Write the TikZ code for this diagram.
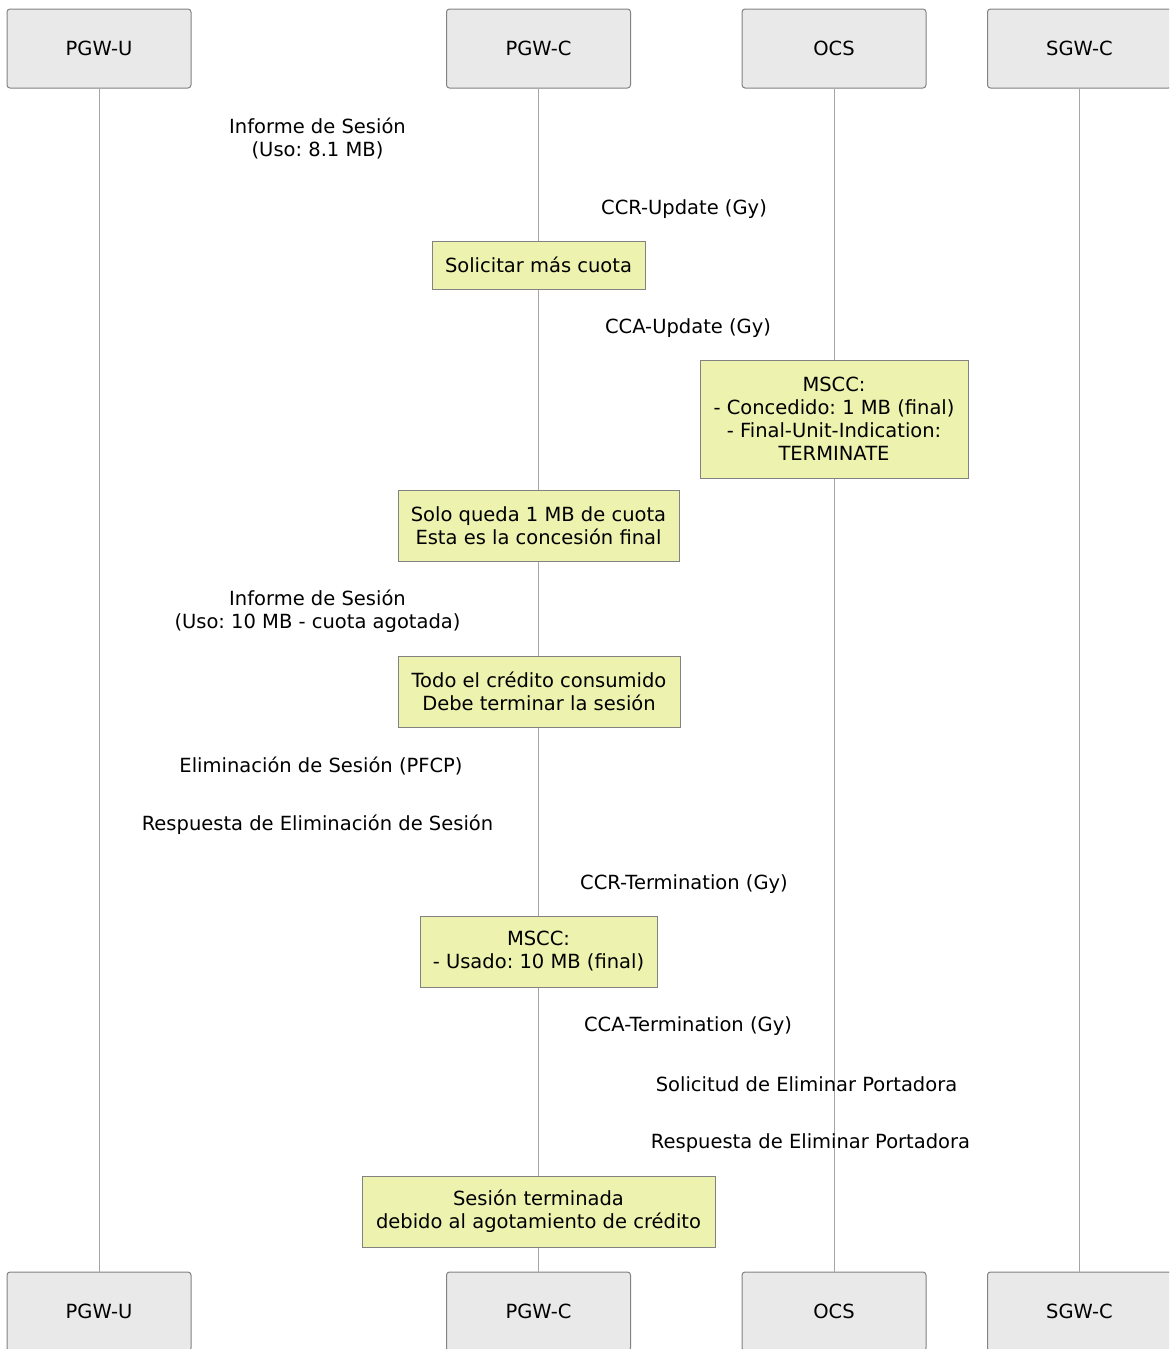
\documentclass[tikz,border=0pt]{standalone}
\usepackage{xcolor}
\usepackage{fontspec}
\setmainfont{DejaVu Sans}

\definecolor{partfill}{RGB}{233,233,233}
\definecolor{partline}{RGB}{130,130,130}
\definecolor{notefill}{RGB}{237,242,174}
\definecolor{lifegray}{RGB}{165,165,165}

\tikzset{
    party/.style={draw=partline, fill=partfill, rounded corners=1.5pt, line width=0.5pt,
        minimum width=92pt, minimum height=39.5pt, inner sep=0pt},
    note/.style={draw=partline, fill=notefill, line width=0.5pt, align=center, inner sep=0pt},
    msg/.style={align=center, inner sep=0pt},
    life/.style={draw=lifegray, line width=0.5pt}
}

\begin{document}
\frenchspacing
\begin{tikzpicture}[x=0.5pt, y=-0.5pt, font=\fontsize{9.75pt}{11.5pt}\selectfont]
    \useasboundingbox (0,0) rectangle (1169,1349);
    \clip (0,0) rectangle (1169,1349);

    % participants
    \node[party] (top-pgu) at (99,48.5) {PGW-U};
    \node[party] (top-pgc) at (538.5,48.5) {PGW-C};
    \node[party] (top-ocs) at (834,48.5) {OCS};
    \node[party] (top-sgw) at (1079.5,48.5) {SGW-C};
    \node[party] (bot-pgu) at (99,1311.5) {PGW-U};
    \node[party] (bot-pgc) at (538.5,1311.5) {PGW-C};
    \node[party] (bot-ocs) at (834,1311.5) {OCS};
    \node[party] (bot-sgw) at (1079.5,1311.5) {SGW-C};

    \foreach \p in {pgu,pgc,ocs,sgw}
        \draw[life] (top-\p.south) -- (bot-\p.north);

    % messages
    \node[msg] (informe1) at (317.5,138) {Informe de Sesión\\(Uso: 8.1 MB)};
    \node[msg] (ccrUpd) at (684,209) {CCR-Update (Gy)};
    \node[msg] (ccaUpd) at (688,328) {CCA-Update (Gy)};
    \node[msg] (informe2) at (317.5,611.5) {Informe de Sesión\\(Uso: 10 MB - cuota agotada)};
    \node[msg] (elimSes) at (321,766) {Eliminación de Sesión (PFCP)};
    \node[msg] (respSes) at (317.5,825) {Respuesta de Eliminación de Sesión};
    \node[msg] (ccrTerm) at (684,884) {CCR-Termination (Gy)};
    \node[msg] (ccaTerm) at (688,1026) {CCA-Termination (Gy)};
    \node[msg] (solPort) at (806.5,1084.5) {Solicitud de Eliminar Portadora};
    \node[msg] (respPort) at (810.5,1143.5) {Respuesta de Eliminar Portadora};

    % notes
    \node[note, minimum width=106.5pt, minimum height=24pt] (masCuota) at (538.5,265)
        {Solicitar más cuota};
    \node[note, minimum width=134pt, minimum height=59pt] (msccGrant) at (834,419)
        {MSCC:\\- Concedido: 1 MB (final)\\- Final-Unit-Indication:\\TERMINATE};
    \node[note, minimum width=140.5pt, minimum height=35.5pt] (soloQueda) at (538.5,525.5)
        {Solo queda 1 MB de cuota\\Esta es la concesión final};
    \node[note, minimum width=141pt, minimum height=35.5pt] (todoCred) at (539,691.5)
        {Todo el crédito consumido\\Debe terminar la sesión};
    \node[note, minimum width=118.5pt, minimum height=35.5pt] (msccUsed) at (538.5,951.5)
        {MSCC:\\- Usado: 10 MB (final)};
    \node[note, minimum width=176.5pt, minimum height=35.5pt] (sesTerm) at (538.5,1211.5)
        {Sesión terminada\\debido al agotamiento de crédito};
\end{tikzpicture}
\end{document}
